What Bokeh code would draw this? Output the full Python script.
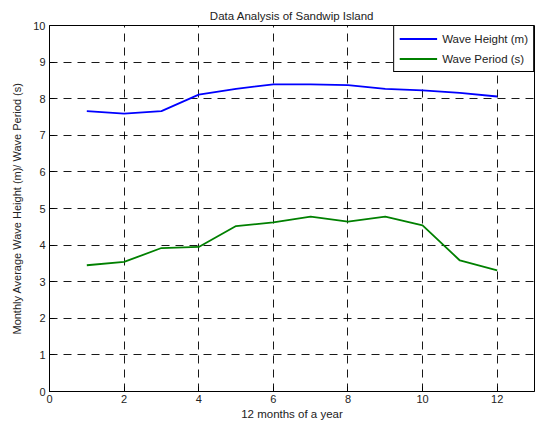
from bokeh.plotting import figure
from bokeh.models import Range1d, FixedTicker, Legend, LegendItem
from bokeh.embed import file_html
from bokeh.resources import INLINE

months = [1, 2, 3, 4, 5, 6, 7, 8, 9, 10, 11, 12]
wave_height = [7.66, 7.59, 7.66, 8.11, 8.27, 8.39, 8.39, 8.37, 8.27, 8.23, 8.16, 8.06]
wave_period = [3.45, 3.54, 3.92, 3.95, 4.52, 4.62, 4.78, 4.64, 4.78, 4.54, 3.58, 3.31]
x_ticks = [0, 2, 4, 6, 8, 10, 12]
y_ticks = [0, 1, 2, 3, 4, 5, 6, 7, 8, 9, 10]

FONT = "Liberation Sans"

p = figure(width=536, height=426, output_backend="svg", toolbar_location=None,
           x_range=Range1d(0, 13), y_range=Range1d(0, 10),
           title="Data Analysis of Sandwip Island",
           min_border_left=49, min_border_right=2, min_border_top=25, min_border_bottom=35)

p.title.align = "center"
p.title.text_font = FONT
p.title.text_font_size = "11.5px"
p.title.text_font_style = "normal"
p.title.text_color = "#222222"
p.title.standoff = 7

p.outline_line_color = "black"
p.outline_line_alpha = 1
p.outline_line_width = 1
p.background_fill_color = "white"
p.border_fill_color = "white"

for ax in (p.xaxis, p.yaxis):
    ax.major_tick_in = 5
    ax.major_tick_out = 0
    ax.minor_tick_line_color = None
    ax.axis_line_color = "black"
    ax.major_tick_line_color = "black"
    ax.major_label_text_font = FONT
    ax.major_label_text_font_size = "11px"
    ax.major_label_text_color = "#222222"
    ax.axis_label_text_font = FONT
    ax.axis_label_text_font_style = "normal"
    ax.axis_label_text_color = "#222222"

p.xaxis.axis_label_text_font_size = "11.5px"
p.yaxis.axis_label_text_font_size = "11px"
p.xaxis.ticker = FixedTicker(ticks=x_ticks)
p.yaxis.ticker = FixedTicker(ticks=y_ticks)
p.xaxis.major_label_standoff = 3
p.yaxis.major_label_standoff = 4
p.xaxis.axis_label = "12 months of a year"
p.yaxis.axis_label = "Monthly Average Wave Height (m)/ Wave Period (s)"
p.xaxis.axis_label_standoff = 2
p.yaxis.axis_label_standoff = 7

for g in (p.xgrid, p.ygrid):
    g.grid_line_color = "black"
    g.grid_line_alpha = 0.9
    g.grid_line_dash = "8 6"
    g.grid_line_width = 1

r1 = p.line(months, wave_height, line_color="#0000ff", line_width=1.8)
r2 = p.line(months, wave_period, line_color="#008000", line_width=1.8)

legend = Legend(items=[LegendItem(label="Wave Height (m)", renderers=[r1]),
                       LegendItem(label="Wave Period (s)", renderers=[r2])],
                location="top_right", margin=0, padding=5, spacing=5,
                glyph_width=38, glyph_height=15, label_height=15, label_standoff=5,
                border_line_color="black", border_line_alpha=1, border_line_width=1,
                background_fill_color="white", background_fill_alpha=1,
                label_text_font=FONT, label_text_font_size="11.5px", label_text_color="#222222")
p.add_layout(legend, "center")

open("out.html", "w").write(file_html(p, INLINE))
